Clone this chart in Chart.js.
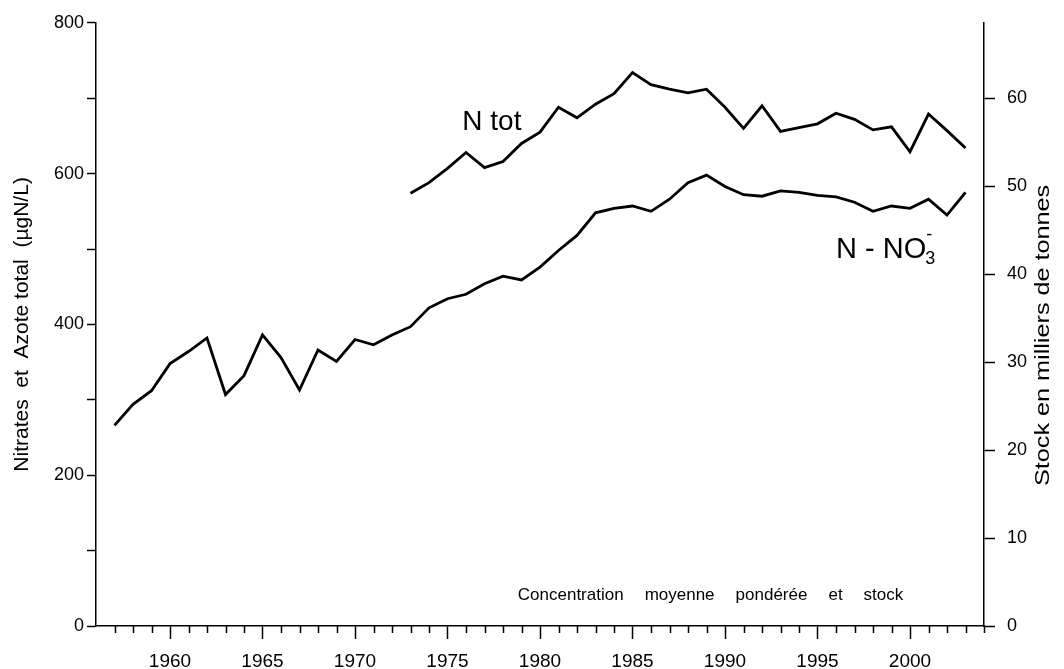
<!DOCTYPE html>
<html lang="fr">
<head>
<meta charset="utf-8">
<title>Concentration moyenne pondérée et stock</title>
<script src="https://cdn.jsdelivr.net/npm/chart.js@4.4.1/dist/chart.umd.min.js"></script>
<style>
  html, body { margin: 0; padding: 0; background: #fff; }
  canvas { display: block; }
</style>
</head>
<body>
<canvas id="nitrates" width="1064" height="669"></canvas>
<script>
// Concentration moyenne pondérée (µgN/L), nitrates 1957-2003
var annees = [1957, 1958, 1959, 1960, 1961, 1962, 1963, 1964, 1965, 1966,
              1967, 1968, 1969, 1970, 1971, 1972, 1973, 1974, 1975, 1976,
              1977, 1978, 1979, 1980, 1981, 1982, 1983, 1984, 1985, 1986,
              1987, 1988, 1989, 1990, 1991, 1992, 1993, 1994, 1995, 1996,
              1997, 1998, 1999, 2000, 2001, 2002, 2003];
var nitrates = [266, 294, 312, 348, 364, 382, 307, 332, 386, 356,
                313, 366, 351, 380, 373, 386, 397, 422, 434, 440,
                454, 464, 459, 476, 498, 518, 548, 554, 557, 550,
                566, 588, 598, 583, 572, 570, 577, 575, 571, 569,
                562, 550, 557, 554, 566, 545, 575];

// Azote total, mesuré à partir de 1973
var anneesNtot = [1973, 1974, 1975, 1976, 1977, 1978, 1979, 1980, 1981, 1982,
                  1983, 1984, 1985, 1986, 1987, 1988, 1989, 1990, 1991, 1992,
                  1993, 1994, 1995, 1996, 1997, 1998, 1999, 2000, 2001, 2002, 2003];
var azoteTotal = [574, 588, 607, 628, 608, 616, 640, 655, 688, 674,
                  692, 706, 734, 718, 712, 707, 712, 688, 660, 690,
                  656, 661, 666, 680, 672, 658, 662, 629, 679, 657, 634];

var stockTicks = [0, 10, 20, 30, 40, 50, 60];

var FONT = '"Liberation Sans", Arial, sans-serif';

function points(xs, ys) {
    return xs.map(function(x, i) { return {x: x, y: ys[i]}; });
}

// petits traits d'année, libellés des courbes, titre de droite
var decor = {
    id: 'decor',
    afterDraw: function(chart) {
        var ctx = chart.ctx;
        var sx = chart.scales.x, sy = chart.scales.y;
        ctx.save();
        ctx.strokeStyle = '#000';
        ctx.lineWidth = 1.5;
        ctx.beginPath();
        sx.ticks.forEach(function(t) {
            if (t.value % 5 === 0 || t.value === sx.min) return;
            var px = Math.round(sx.getPixelForValue(t.value)) + 0.5;
            ctx.moveTo(px, sx.top);
            ctx.lineTo(px, sx.top + 7);
        });
        ctx.stroke();

        ctx.fillStyle = '#000';
        ctx.textBaseline = 'alphabetic';
        ctx.textAlign = 'left';

        ctx.font = '28px ' + FONT;
        ctx.fillText('N tot', sx.getPixelForValue(1975.8), sy.getPixelForValue(658));

        ctx.font = '29px ' + FONT;
        var nx = sx.getPixelForValue(1996.0), ny = sy.getPixelForValue(488);
        var head = 'N - NO';
        ctx.fillText(head, nx, ny);
        var w = ctx.measureText(head).width;
        ctx.font = '18px ' + FONT;
        ctx.fillText('3', nx + w - 1, ny + 6);
        ctx.fillText('-', nx + w, ny - 18);

        ctx.font = '17px ' + FONT;
        var words = ['Concentration', 'moyenne', 'pondérée', 'et', 'stock'];
        var cx = sx.getPixelForValue(1978.8), cy = sy.getPixelForValue(35);
        words.forEach(function(wd) {
            ctx.fillText(wd, cx, cy);
            cx += ctx.measureText(wd).width + 21;
        });

        // titre de l'axe droit, lu de bas en haut
        ctx.font = '21px ' + FONT;
        ctx.translate(1043, (chart.chartArea.top + chart.chartArea.bottom) / 2 + 11);
        ctx.rotate(-Math.PI / 2);
        ctx.scale(1.2, 1);
        ctx.textAlign = 'center';
        ctx.textBaseline = 'middle';
        ctx.fillText('Stock en milliers de tonnes', 0, 0);
        ctx.restore();
    }
};

new Chart(document.getElementById('nitrates'), {
    type: 'line',
    data: {
        datasets: [
            {
                label: 'N - NO3',
                data: points(annees, nitrates),
                yAxisID: 'y',
                borderColor: '#000',
                borderWidth: 2.8,
                pointRadius: 0,
                tension: 0,
                fill: false
            },
            {
                label: 'N tot',
                data: points(anneesNtot, azoteTotal),
                yAxisID: 'y',
                borderColor: '#000',
                borderWidth: 2.8,
                pointRadius: 0,
                tension: 0,
                fill: false
            }
        ]
    },
    options: {
        responsive: false,
        animation: false,
        layout: { padding: { top: 20, left: 0, right: 0, bottom: 0 } },
        plugins: {
            legend: { display: false },
            tooltip: { enabled: false }
        },
        scales: {
            x: {
                type: 'linear',
                min: 1956,
                max: 2004,
                ticks: {
                    stepSize: 1,
                    autoSkip: false,
                    maxRotation: 0,
                    padding: 11,
                    color: '#000',
                    font: { family: FONT, size: 19 },
                    callback: function(v) { return v % 5 === 0 ? String(v) : ''; }
                },
                grid: {
                    drawOnChartArea: false,
                    tickLength: 13,
                    tickWidth: 1.5,
                    tickColor: function(c) {
                        return c.tick && c.tick.value % 5 === 0 ? '#000' : 'rgba(0,0,0,0)';
                    }
                },
                border: { color: '#000', width: 1.5 },
                afterFit: function(s) { s.height = 43; }
            },
            y: {
                min: 0,
                max: 800,
                ticks: {
                    stepSize: 100,
                    padding: 3,
                    color: '#000',
                    font: { family: FONT, size: 18 },
                    callback: function(v) { return v % 200 === 0 ? String(v) : ''; }
                },
                grid: { drawOnChartArea: false, tickLength: 9, tickWidth: 1.5, tickColor: '#000' },
                border: { color: '#000', width: 1.5 },
                title: {
                    display: true,
                    text: 'Nitrates  et  Azote total  (µgN/L)',
                    color: '#000',
                    font: { family: FONT, size: 21 },
                    padding: { top: 10, bottom: 0 }
                },
                afterFit: function(s) { s.width = 96; }
            },
            y2: {
                position: 'right',
                min: 0,
                max: 68.6,
                afterBuildTicks: function(s) {
                    s.ticks = stockTicks.map(function(v) { return {value: v}; });
                },
                ticks: {
                    stepSize: 10,
                    padding: 12,
                    color: '#000',
                    font: { family: FONT, size: 18 }
                },
                grid: { drawOnChartArea: false, tickLength: 11, tickWidth: 1.5, tickColor: '#000' },
                border: { color: '#000', width: 1.5 },
                afterFit: function(s) { s.width = 80; }
            }
        }
    },
    plugins: [decor]
});
</script>
</body>
</html>
